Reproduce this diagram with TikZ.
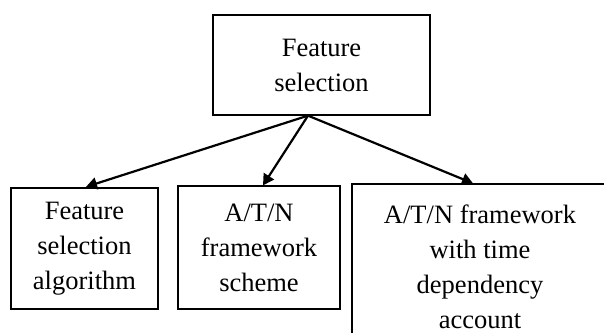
\documentclass[tikz,border=0pt]{standalone}
\usepackage{fontspec}
\setmainfont{Liberation Serif}
\usetikzlibrary{arrows.meta,calc}
\begin{document}
\begin{tikzpicture}[x=1pt,y=-1pt,
  box/.style={draw,line width=1.3pt,align=center,inner sep=0pt,
    font=\fontsize{26.5}{35}\selectfont},
  conn/.style={line width=2.2pt,-{Triangle[length=11pt,width=12pt]}}]
\useasboundingbox (0,0) rectangle (604,332);
\node[box,minimum width=217pt,minimum height=100pt] (top) at (321.5,65) {Feature\\selection};
\node[box,minimum width=147pt,minimum height=121pt] (b1) at (84.5,248.5) {Feature\\selection\\algorithm};
\node[box,minimum width=162pt,minimum height=123pt] (b2) at (259,247.5) {A/T/N\\framework\\scheme};
\node[box,minimum width=256pt,minimum height=165pt] (b3) at (480,266.5) {A/T/N framework\\with time\\dependency\\account};
\coordinate (o) at ($(top.south)+(-13.5,0)$);
\draw[conn] (o) -- ($(b1.north)+(1.5,-0.5)$);
\draw[conn] (o) -- ($(b2.north)+(4,0)$);
\draw[conn] (o) -- ($(b3.north)+(-7,0)$);
\end{tikzpicture}
\end{document}
